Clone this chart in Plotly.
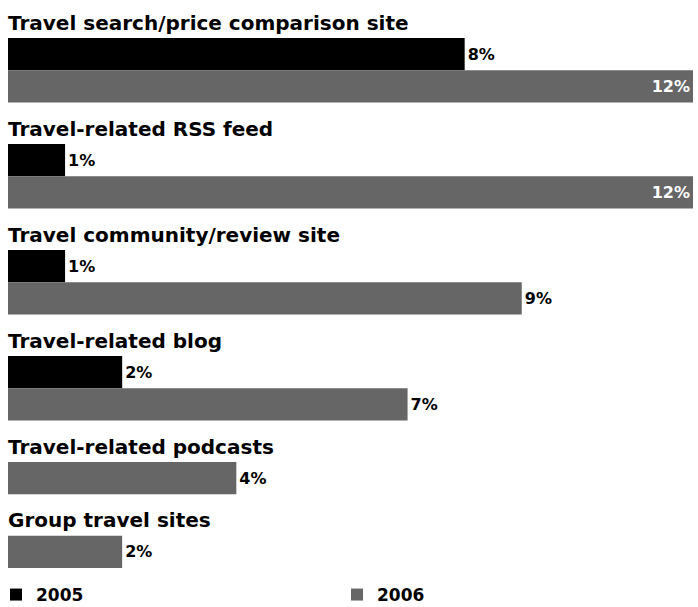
import plotly.graph_objects as go

categories = [
    "Travel search/price comparison site",
    "Travel-related RSS feed",
    "Travel community/review site",
    "Travel-related blog",
    "Travel-related podcasts",
    "Group travel sites",
]
values_2005 = [8, 1, 1, 2, None, None]
values_2006 = [12, 12, 9, 7, 4, 2]
series_names = ["2005", "2006"]
colors = ["#000000", "#666666"]

W, H = 698, 607
BAR_H = 32.2
GAP = 41.6
FIRST_TOP = 38.0
TITLE_OFFSET = 15.5

# compute layout rows (pixel units on a reversed y-axis)
y2005, y2006, title_y = [], [], []
cursor = FIRST_TOP
for v5, v6 in zip(values_2005, values_2006):
    title_y.append(cursor - TITLE_OFFSET)
    row = 0
    if v5 is not None:
        y2005.append(cursor + BAR_H * (row + 0.5))
        row += 1
    else:
        y2005.append(None)
    y2006.append(cursor + BAR_H * (row + 0.5))
    row += 1
    cursor += row * BAR_H + GAP

vmax = max(values_2006)

def text_pos(vals):
    return ["inside" if (v is not None and v >= vmax) else "outside" for v in vals]

fig = go.Figure()
for name, vals, ys, col in [
    (series_names[0], values_2005, y2005, colors[0]),
    (series_names[1], values_2006, y2006, colors[1]),
]:
    xs = [v for v in vals if v is not None]
    yy = [y for v, y in zip(vals, ys) if v is not None]
    fig.add_trace(go.Bar(
        x=xs, y=yy, orientation="h", name=name,
        width=BAR_H,
        marker=dict(color=col, line=dict(width=0)),
        text=[f"{v}%" for v in xs],
        textposition=text_pos(xs),
        insidetextanchor="end",
        insidetextfont=dict(color="white", size=16, family="DejaVu Sans", weight="bold"),
        outsidetextfont=dict(color="black", size=16, family="DejaVu Sans", weight="bold"),
        constraintext="none",
        cliponaxis=False,
        hoverinfo="skip",
    ))

for cat, ty in zip(categories, title_y):
    fig.add_annotation(
        x=0, y=ty, xref="x", yref="y", text=cat, showarrow=False,
        xanchor="left", yanchor="middle", xshift=-2,
        font=dict(family="DejaVu Sans", size=20, color="black", weight="bold"),
    )

px_per_unit = (693 - 8) / 12.0
fig.update_layout(
    width=W, height=H,
    margin=dict(l=0, r=0, t=0, b=0, autoexpand=False),
    paper_bgcolor="white", plot_bgcolor="white",
    barmode="overlay",
    showlegend=True,
    legend=dict(
        orientation="h", x=0, xanchor="left", y=1 - 595 / H, yanchor="middle",
        font=dict(family="DejaVu Sans", size=17, color="black", weight="bold"),
        entrywidth=300, entrywidthmode="pixels", itemwidth=30, indentation=-4,
        bgcolor="rgba(0,0,0,0)", traceorder="normal",
    ),
    xaxis=dict(range=[-8 / px_per_unit, (W - 8) / px_per_unit], visible=False, fixedrange=True),
    yaxis=dict(range=[H, 0], visible=False, fixedrange=True),
)

fig.write_html("out.html")
